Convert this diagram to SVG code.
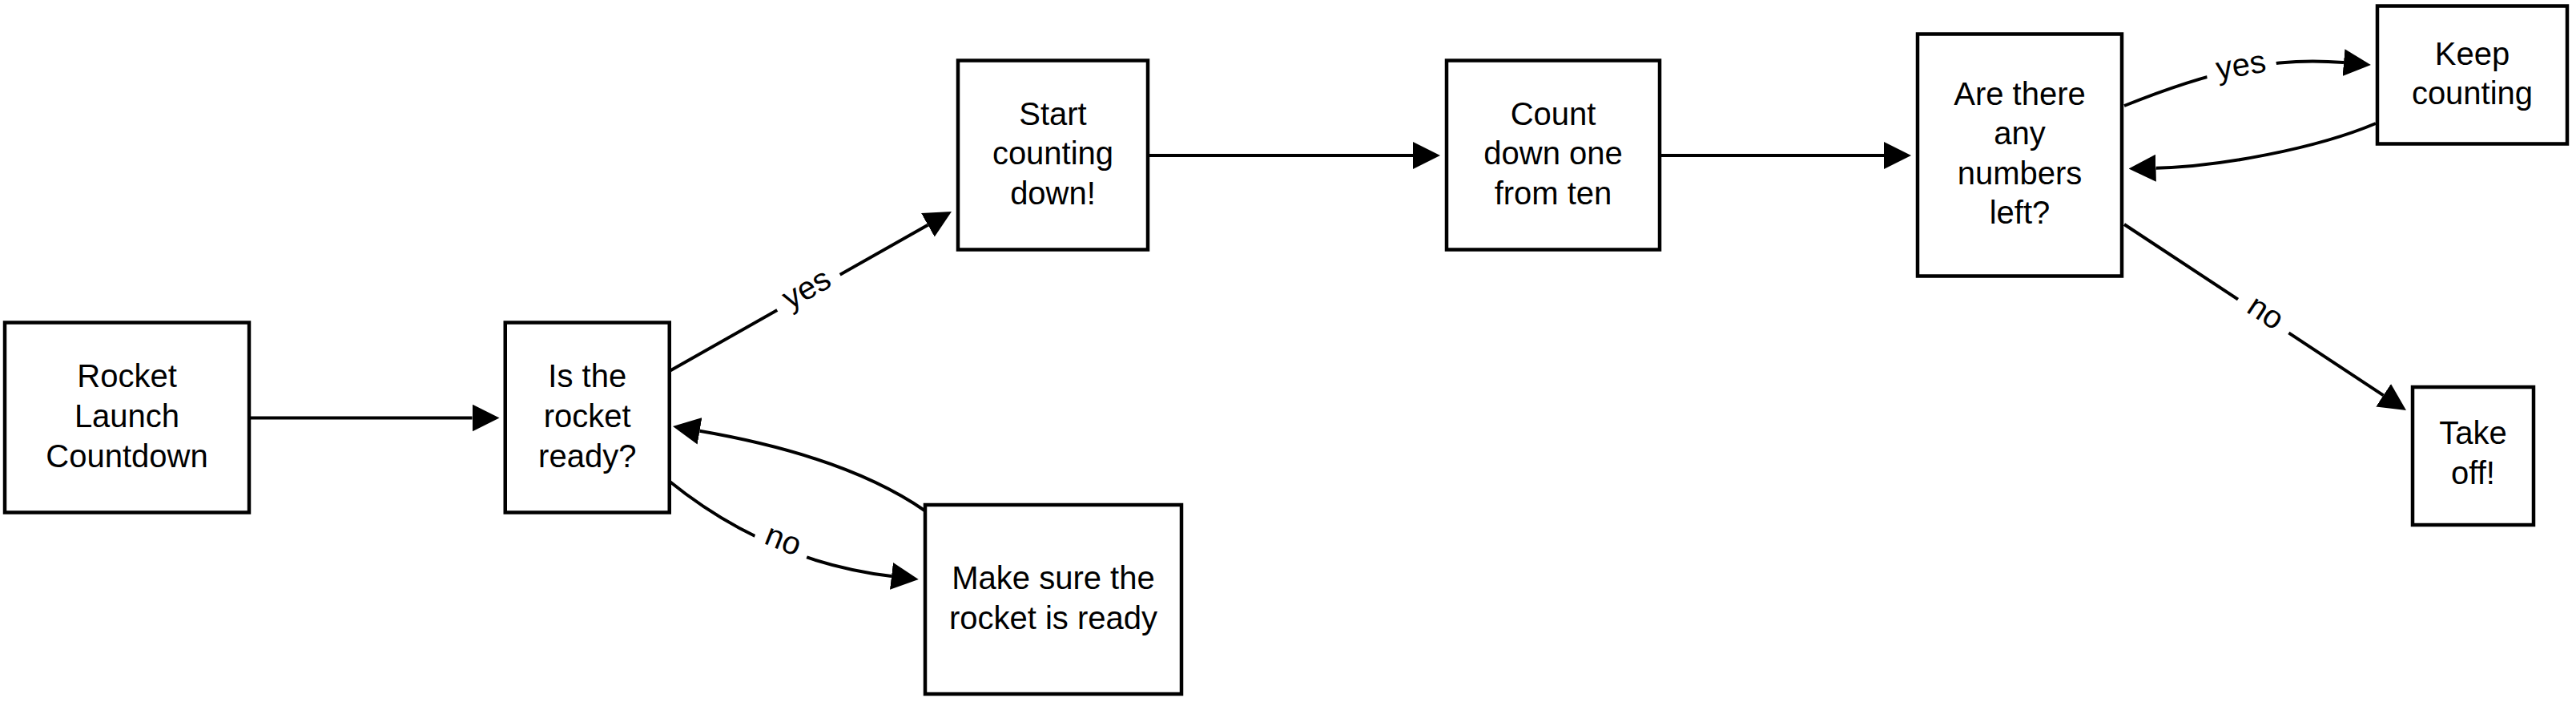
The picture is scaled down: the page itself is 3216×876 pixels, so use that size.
<svg xmlns="http://www.w3.org/2000/svg" width="3216" height="876" viewBox="0 0 3216 876">
  <defs>
    <style>
      .box { fill: #ffffff; stroke: #000000; stroke-width: 4.5; }
      .edge { fill: none; stroke: #000000; stroke-width: 4; marker-end: url(#arrow); }
      .lbl { font-family: "Liberation Sans", Arial, Helvetica, sans-serif; font-size: 40px; fill: #000000; text-anchor: middle; }
      .lblbg { fill: #ffffff; stroke: none; }
    </style>
    <marker id="arrow" markerUnits="userSpaceOnUse" markerWidth="34" markerHeight="34" viewBox="0 0 34 34" refX="0" refY="17" orient="auto">
      <path d="M0,0 L34,17 L0,34 Z" fill="#000000"/>
    </marker>
  </defs>
  <rect x="0" y="0" width="3216" height="876" fill="#ffffff"/>

  <g id="connectors">
    <path class="edge" d="M313,521.5 H589.5"/>
    <path class="edge" d="M835,463.5 L1158.4,280.7"/>
    <path class="edge" d="M835,600 Q959,700.5 1113,719"/>
    <path class="edge" d="M1155,637.5 Q1056.8,569.4 873.5,537.8"/>
    <path class="edge" d="M1434,194 H1764"/>
    <path class="edge" d="M2072,194 H2352"/>
    <path class="edge" d="M2652,132 C2772.5,83.4 2846.3,71.3 2926,78.1"/>
    <path class="edge" d="M2966,154 C2892.3,185.2 2771.3,208 2691.5,209.7"/>
    <path class="edge" d="M2652,280 L2975.6,493.3"/>
    <g id="label-yes-1" transform="translate(1009.5,364.9) rotate(-29.3)">
      <rect class="lblbg" x="-45" y="-14" width="90" height="28"/>
      <text class="lbl" x="0" y="7.5">yes</text>
    </g>
    <g id="label-no-1" transform="translate(976,679) rotate(21.5)">
      <rect class="lblbg" x="-35" y="-14" width="70" height="28"/>
      <text class="lbl" x="0" y="7.5">no</text>
    </g>
    <g id="label-yes-2" transform="translate(2798.5,87) rotate(-9.5)">
      <rect class="lblbg" x="-44" y="-14" width="88" height="28"/>
      <text class="lbl" x="0" y="7.5">yes</text>
    </g>
    <g id="label-no-2" transform="translate(2825.7,394.5) rotate(33.4)">
      <rect class="lblbg" x="-38" y="-14" width="76" height="28"/>
      <text class="lbl" x="0" y="7.5">no</text>
    </g>
  </g>

  <g id="node-rocket-launch">
    <rect class="box" x="6" y="402.5" width="305" height="237"/>
    <text class="lbl"><tspan x="158.5" y="483">Rocket</tspan><tspan x="158.5" y="533">Launch</tspan><tspan x="158.5" y="583">Countdown</tspan></text>
  </g>
  <g id="node-is-ready">
    <rect class="box" x="630.75" y="402.5" width="205" height="237"/>
    <text class="lbl"><tspan x="733.25" y="483">Is the</tspan><tspan x="733.25" y="533">rocket</tspan><tspan x="733.25" y="583">ready?</tspan></text>
  </g>
  <g id="node-make-sure">
    <rect class="box" x="1155" y="630" width="320" height="236"/>
    <text class="lbl"><tspan x="1315" y="735">Make sure the</tspan><tspan x="1315" y="785">rocket is ready</tspan></text>
  </g>
  <g id="node-start">
    <rect class="box" x="1196" y="75.5" width="237" height="236"/>
    <text class="lbl"><tspan x="1314.5" y="155.5">Start</tspan><tspan x="1314.5" y="205">counting</tspan><tspan x="1314.5" y="254.5">down!</tspan></text>
  </g>
  <g id="node-count-down">
    <rect class="box" x="1806" y="75.5" width="266" height="236"/>
    <text class="lbl"><tspan x="1939" y="155.5">Count</tspan><tspan x="1939" y="205">down one</tspan><tspan x="1939" y="254.5">from ten</tspan></text>
  </g>
  <g id="node-numbers-left">
    <rect class="box" x="2394" y="42.5" width="255" height="302"/>
    <text class="lbl"><tspan x="2521.5" y="130.5">Are there</tspan><tspan x="2521.5" y="180">any</tspan><tspan x="2521.5" y="229.5">numbers</tspan><tspan x="2521.5" y="279">left?</tspan></text>
  </g>
  <g id="node-keep-counting">
    <rect class="box" x="2968" y="7.5" width="237" height="172"/>
    <text class="lbl"><tspan x="3086.5" y="80.5">Keep</tspan><tspan x="3086.5" y="130">counting</tspan></text>
  </g>
  <g id="node-take-off">
    <rect class="box" x="3012" y="483" width="151" height="172"/>
    <text class="lbl"><tspan x="3087.5" y="554">Take</tspan><tspan x="3087.5" y="604">off!</tspan></text>
  </g>
</svg>
